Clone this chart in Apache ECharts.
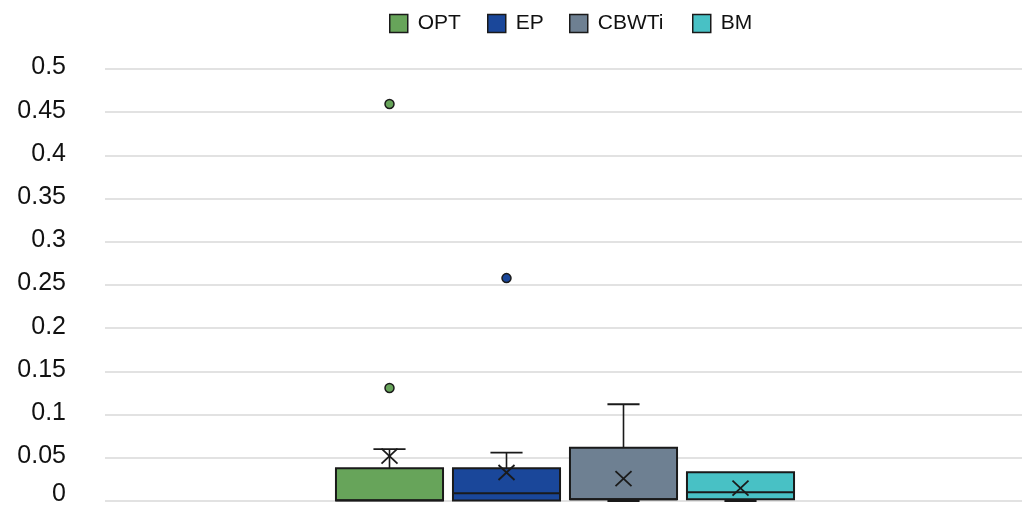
<!DOCTYPE html>
<html>
<head>
<meta charset="utf-8">
<script src="https://cdn.jsdelivr.net/npm/echarts@6/dist/echarts.min.js"></script>
<style>
html,body{margin:0;padding:0;background:#fff;}
#chart{width:1024px;height:507px;}
</style>
</head>
<body>
<div id="chart"></div>
<script>
// ---- data ----
const groups = ['OPT', 'EP', 'CBWTi', 'BM'];
const minVals = [0, 0, 0, 0];
const q1Vals = [0.0005, 0.0005, 0.002, 0.002];
const medianVals = [0.001, 0.009, 0.002, 0.010];
const q3Vals = [0.038, 0.038, 0.0617, 0.0332];
const maxVals = [0.060, 0.056, 0.112, 0.0332];
const meanVals = [0.052, 0.033, 0.026, 0.015];
const outlierVals = [[0.4595, 0.1308], [0.258], [], []];
const yMin = 0, yMax = 0.5, yStep = 0.05;

const colors = ['#67a45a', '#1a479a', '#6e8092', '#48c1c5'];
const legendLefts = [384, 482, 564, 687];
const edge = '#1a1a1a';

function renderBox(params, api) {
  const x = api.value(0);
  const band = api.size([1, 0])[0];
  const boxW = band * 0.915;
  const capW = boxW * 0.3;
  const pMin = api.coord([x, api.value(1)]);
  const pQ1 = api.coord([x, api.value(2)]);
  const pMed = api.coord([x, api.value(3)]);
  const pQ3 = api.coord([x, api.value(4)]);
  const pMax = api.coord([x, api.value(5)]);
  const pMean = api.coord([x, api.value(6)]);
  const cx = pMed[0];
  const color = api.visual('color');
  const line = (x1, y1, x2, y2, w) => ({
    type: 'line',
    shape: {x1, y1, x2, y2},
    style: {stroke: edge, lineWidth: w}
  });
  const children = [];
  if (pMax[1] < pQ3[1] - 0.5) {
    children.push(line(cx, pQ3[1], cx, pMax[1], 1.6));
    children.push(line(cx - capW / 2, pMax[1], cx + capW / 2, pMax[1], 1.8));
  }
  if (pMin[1] > pQ1[1] + 0.5) {
    children.push(line(cx, pQ1[1], cx, pMin[1], 1.6));
    children.push(line(cx - capW / 2, pMin[1], cx + capW / 2, pMin[1], 1.8));
  }
  children.push({
    type: 'rect',
    shape: {x: cx - boxW / 2, y: pQ3[1], width: boxW, height: pQ1[1] - pQ3[1]},
    style: {fill: color, stroke: edge, lineWidth: 2}
  });
  children.push(line(cx - boxW / 2, pMed[1], cx + boxW / 2, pMed[1], 2));
  const hx = 8, hy = 7.5;
  children.push(line(cx - hx, pMean[1] - hy, cx + hx, pMean[1] + hy, 1.8));
  children.push(line(cx - hx, pMean[1] + hy, cx + hx, pMean[1] - hy, 1.8));
  return {type: 'group', children};
}

const series = [];
groups.forEach((g, i) => {
  series.push({
    name: g,
    type: 'custom',
    xAxisIndex: 1,
    yAxisIndex: 1,
    color: colors[i],
    itemStyle: {color: colors[i]},
    renderItem: renderBox,
    encode: {x: 0, y: [1, 2, 3, 4, 5, 6]},
    data: [[i, minVals[i], q1Vals[i], medianVals[i], q3Vals[i], maxVals[i], meanVals[i]]],
    z: 2
  });
});
groups.forEach((g, i) => {
  series.push({
    name: g,
    type: 'scatter',
    xAxisIndex: 1,
    yAxisIndex: 1,
    symbol: 'circle',
    symbolSize: 9,
    itemStyle: {color: colors[i], borderColor: edge, borderWidth: 1.5, opacity: 1},
    data: outlierVals[i].map(v => [i, v]),
    z: 3
  });
});

const legends = groups.map((g, i) => ({
  top: 8,
  left: legendLefts[i],
  itemWidth: 18,
  itemHeight: 18,
  itemGap: 20,
  icon: 'rect',
  textStyle: {fontFamily: 'Liberation Sans', fontSize: 21, color: '#111', padding: [0, 0, 0, 5]},
  data: [{name: g, itemStyle: {color: colors[i], borderColor: edge, borderWidth: 1.5}}]
}));

const chart = echarts.init(document.getElementById('chart'), null, {renderer: 'canvas'});
chart.setOption({
  animation: false,
  backgroundColor: '#fff',
  legend: legends,
  grid: [
    {left: 105, right: 2, top: 69, bottom: 6, containLabel: false, outerBoundsMode: 'none'},
    {left: 331, right: 225, top: 69, bottom: 6, containLabel: false, outerBoundsMode: 'none'}
  ],
  xAxis: [
    {gridIndex: 0, type: 'value', show: false, min: 0, max: 1},
    {gridIndex: 1, type: 'category', show: false, data: groups.map((g, i) => i), boundaryGap: true}
  ],
  yAxis: [
    {
      gridIndex: 0, type: 'value', min: yMin, max: yMax, interval: yStep,
      axisLine: {show: false}, axisTick: {show: false},
      splitLine: {show: true, lineStyle: {color: '#d9d9d9', width: 1.6}},
      axisLabel: {
        fontFamily: 'Liberation Sans', fontSize: 25, color: '#111', margin: 39,
        formatter: v => {
          const s = String(Math.round(v * 100) / 100);
          return v === 0 ? '{z|' + s + '}' : '{n|' + s + '}';
        },
        rich: {
          n: {fontFamily: 'Liberation Sans', fontSize: 25, color: '#111', padding: [0, 0, 3, 0]},
          z: {fontFamily: 'Liberation Sans', fontSize: 25, color: '#111', padding: [0, 0, 14, 0]}
        }
      }
    },
    {gridIndex: 1, type: 'value', min: yMin, max: yMax, show: false, splitLine: {show: false}}
  ],
  series
});
</script>
</body>
</html>
